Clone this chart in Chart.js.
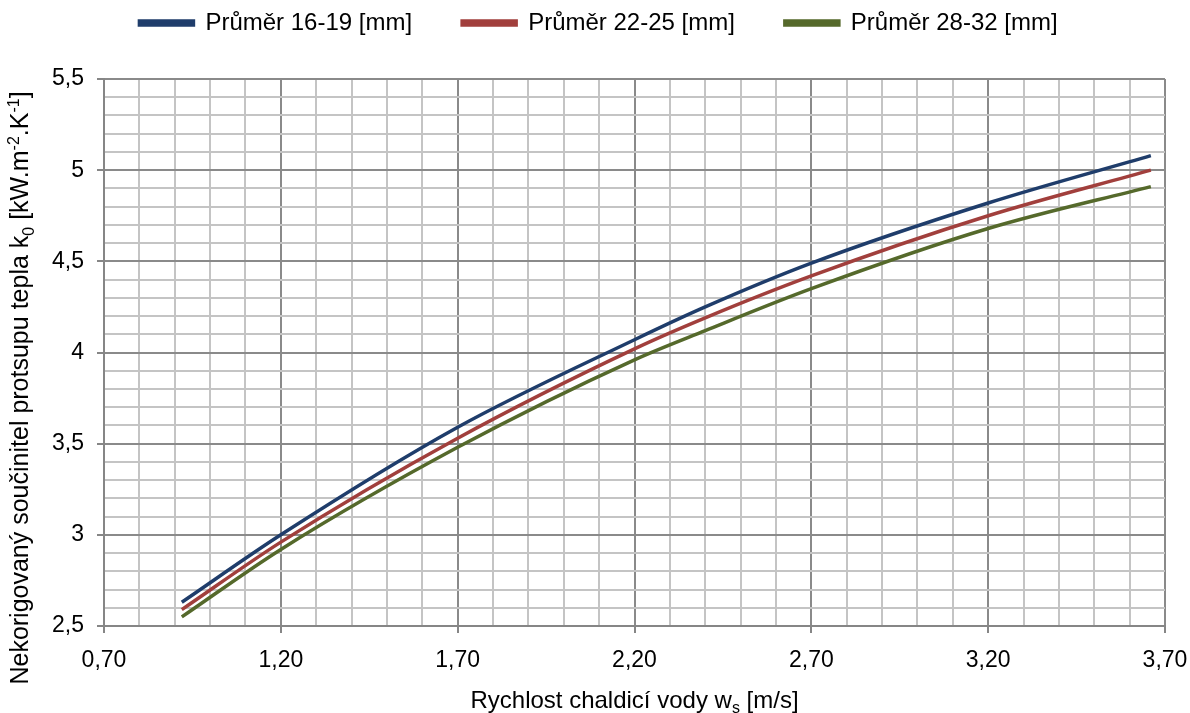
<!DOCTYPE html>
<html>
<head>
<meta charset="utf-8">
<script src="https://cdn.jsdelivr.net/npm/chart.js@4.4.1/dist/chart.umd.min.js"></script>
<style>
html, body { margin:0; padding:0; background:#fff; }
#wrap { width:1190px; height:713px; position:relative; }
</style>
</head>
<body>
<div id="wrap"><canvas id="graf"></canvas></div>
<script>
// rychlost chladici vody [m/s]
var rychlost = [0.92, 1.20, 1.70, 2.20, 2.40, 2.70, 3.20, 3.66];
// soucinitel k0 [kW.m-2.K-1]
var k16_19 = [2.63, 3.00, 3.59, 4.07, 4.25, 4.49, 4.82, 5.08];
var k22_25 = [2.59, 2.96, 3.53, 4.02, 4.19, 4.42, 4.75, 5.00];
var k28_32 = [2.55, 2.92, 3.48, 3.96, 4.12, 4.35, 4.68, 4.91];
var nazvy = ["Průměr 16-19 [mm]", "Průměr 22-25 [mm]", "Průměr 28-32 [mm]"];
var barvy = ["#1F3D6B", "#A13F3C", "#55692B"];

var xTitulek = [{t:"Rychlost chaldicí vody w"}, {t:"s", pos:"sub"}, {t:" [m/s]"}];
var yTitulek = [{t:"Nekorigovaný součinitel protsupu tepla k"}, {t:"0", pos:"sub"},
                {t:" [kW.m"}, {t:"-2", pos:"sup"}, {t:".K"}, {t:"-1", pos:"sup"}, {t:"]"}];

var pismo = "'Liberation Sans', Arial, sans-serif";

function body(hodnoty){
    var out = [];
    for (var i = 0; i < rychlost.length; i++) out.push({x: rychlost[i], y: hodnoty[i]});
    return out;
}

function kresliText(ctx, casti, cx, cy, velikost){
    var mala = Math.round(velikost * 0.65);
    var sirka = 0;
    casti.forEach(function(c){
        ctx.font = (c.pos ? mala : velikost) + "px " + pismo;
        c.w = ctx.measureText(c.t).width;
        sirka += c.w;
    });
    var x = cx - sirka / 2;
    casti.forEach(function(c){
        ctx.font = (c.pos ? mala : velikost) + "px " + pismo;
        var dy = c.pos == "sub" ? velikost * 0.22 : (c.pos == "sup" ? -velikost * 0.38 : 0);
        ctx.fillText(c.t, x, cy + dy);
        x += c.w;
    });
}

var popisOs = {
    id: 'popisOs',
    afterDraw: function(chart){
        var ctx = chart.ctx;
        var area = chart.chartArea;
        ctx.save();
        ctx.fillStyle = '#000';
        ctx.textAlign = 'left';
        ctx.textBaseline = 'alphabetic';
        kresliText(ctx, xTitulek, (area.left + area.right) / 2, 708, 24);
        ctx.translate(28, 388);
        ctx.rotate(-Math.PI / 2);
        kresliText(ctx, yTitulek, 0, 0, 25);
        ctx.restore();
    }
};

function jeHlavniX(v){ return Math.round(v * 10 - 7) % 5 == 0; }
function jeHlavniY(v){ return Math.round(v * 10) % 5 == 0; }

var sady = [k16_19, k22_25, k28_32].map(function(h, i){
    return {
        label: nazvy[i],
        data: body(h),
        borderColor: barvy[i],
        backgroundColor: barvy[i],
        borderWidth: 3.5,
        pointRadius: 0,
        cubicInterpolationMode: 'monotone',
        fill: false
    };
});

new Chart(document.getElementById('graf'), {
    type: 'line',
    data: { datasets: sady },
    plugins: [popisOs],
    options: {
        responsive: true,
        maintainAspectRatio: false,
        animation: false,
        layout: { padding: { top: -39, left: 32, right: 25, bottom: 0 } },
        plugins: {
            legend: {
                position: 'top',
                labels: {
                    boxWidth: 54,
                    boxHeight: 4,
                    padding: 50,
                    color: '#000',
                    font: { family: pismo, size: 24 }
                }
            },
            // prazdny blok mezi legendou a grafem
            subtitle: {
                display: true,
                text: '',
                weight: 500,
                padding: 0,
                font: { size: 34, lineHeight: 1 }
            },
            tooltip: { enabled: false }
        },
        scales: {
            x: {
                type: 'linear',
                min: 0.70,
                max: 3.70,
                afterFit: function(s){ s.height = 87; s.paddingLeft = 0; s.paddingRight = 0; },
                border: { color: '#868686', width: 2 },
                grid: {
                    lineWidth: 2,
                    tickLength: 7,
                    color: function(c){ return jeHlavniX(c.tick.value) ? '#8a8a8a' : '#c4c4c4'; },
                    tickColor: function(c){ return jeHlavniX(c.tick.value) ? '#868686' : 'rgba(0,0,0,0)'; }
                },
                ticks: {
                    stepSize: 0.1,
                    autoSkip: false,
                    maxRotation: 0,
                    padding: 14,
                    color: '#000',
                    font: { family: pismo, size: 23 },
                    callback: function(v){ return jeHlavniX(v) ? v.toFixed(2).replace('.', ',') : ''; }
                }
            },
            y: {
                min: 2.5,
                max: 5.5,
                afterFit: function(s){ s.width = 72; },
                border: { color: '#868686', width: 2 },
                grid: {
                    lineWidth: 2,
                    tickLength: 7,
                    color: function(c){ return jeHlavniY(c.tick.value) ? '#8a8a8a' : '#c4c4c4'; },
                    tickColor: function(c){ return jeHlavniY(c.tick.value) ? '#868686' : 'rgba(0,0,0,0)'; }
                },
                ticks: {
                    stepSize: 0.1,
                    autoSkip: false,
                    padding: 13,
                    color: '#000',
                    font: { family: pismo, size: 23 },
                    callback: function(v){ return jeHlavniY(v) ? String(Math.round(v * 10) / 10).replace('.', ',') : ''; }
                }
            }
        }
    }
});
</script>
</body>
</html>
